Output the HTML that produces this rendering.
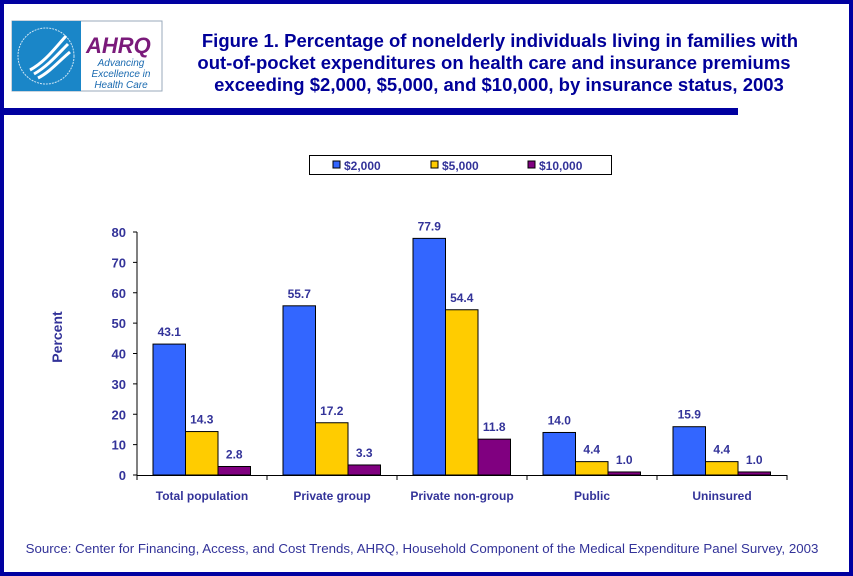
<!DOCTYPE html>
<html><head><meta charset="utf-8"><style>
body{margin:0;width:853px;height:576px;overflow:hidden;background:#fff;font-family:"Liberation Sans",Arial,sans-serif}
#frame{position:absolute;left:0;top:0;width:845px;height:568px;border:4px solid #0000a0;}
</style></head><body>
<div id="frame"></div>
<svg width="853" height="576" style="position:absolute;left:0;top:0">
<g>
<rect x="12" y="21" width="150" height="70" fill="#fff" stroke="#9ab" stroke-width="1"/>
<rect x="12" y="21" width="69" height="70" fill="#1a86c8"/>
<circle cx="46" cy="56" r="28" fill="none" stroke="#cfe6f5" stroke-width="1" stroke-dasharray="2 1"/>
<path d="M30 70 C45 62 55 48 66 36 M34 74 C48 66 58 54 68 44 M38 78 C50 72 60 60 70 52" stroke="#fff" stroke-width="3" fill="none"/>
<text x="86" y="53" font-size="22" font-weight="bold" font-style="italic" fill="#7a1a7a">AHRQ</text>
<text x="121" y="66" font-size="10" font-style="italic" fill="#1a6ab0" text-anchor="middle">Advancing</text>
<text x="121" y="77" font-size="10" font-style="italic" fill="#1a6ab0" text-anchor="middle">Excellence in</text>
<text x="121" y="88" font-size="10" font-style="italic" fill="#1a6ab0" text-anchor="middle">Health Care</text>
</g>
<g font-size="18.5" font-weight="bold" fill="#000099" text-anchor="middle">
<text x="500" y="47">Figure 1. Percentage of nonelderly individuals living in families with</text>
<text x="494" y="69">out-of-pocket expenditures on health care and insurance premiums</text>
<text x="499" y="91">exceeding $2,000, $5,000, and $10,000, by insurance status, 2003</text>
</g>
<rect x="0" y="108" width="738" height="7" fill="#0000a0"/>
<g>
<rect x="309.5" y="155.5" width="302" height="19" fill="#fff" stroke="#000"/>
<g id="leg"></g>
</g>
<text x="62" y="337" font-size="14" font-weight="bold" fill="#333399" text-anchor="middle" transform="rotate(-90 62 337)">Percent</text>
<g id="plot"></g>
<text x="422" y="553" font-size="13.3" fill="#333399" text-anchor="middle">Source: Center for Financing, Access, and Cost Trends, AHRQ, Household Component of the Medical Expenditure Panel Survey, 2003</text>
</svg>
<script>
const categories=["Total population","Private group","Private non-group","Public","Uninsured"];
const seriesNames=["$2,000","$5,000","$10,000"];
const s2000=[43.1,55.7,77.9,14.0,15.9];
const s5000=[14.3,17.2,54.4,4.4,4.4];
const s10000=[2.8,3.3,11.8,1.0,1.0];
const yTicks=[0,10,20,30,40,50,60,70,80];
const colors=["#3366ff","#ffcc00","#800080"];
const NS="http://www.w3.org/2000/svg";
const X0=137,GW=130,Y0=475,YT=232,YMAX=80,BW=32.5;
const y=v=>Y0-(v/YMAX)*(Y0-YT);
const plot=document.getElementById('plot');
function mk(t,a,p){const e=document.createElementNS(NS,t);for(const k in a)e.setAttribute(k,a[k]);(p||plot).appendChild(e);return e;}
const yAxis=mk('line',{x1:X0,y1:YT,x2:X0,y2:Y0,stroke:'#000'});


const xAxis=mk('line',{x1:X0,y1:Y0+0.5,x2:X0+GW*categories.length,y2:Y0+0.5,stroke:'#000'});


yTicks.forEach(t=>{
 mk('line',{x1:X0-4,y1:y(t),x2:X0,y2:y(t),stroke:'#000'});
 const tx=mk('text',{x:X0-11,y:y(t)+5,'font-size':13,'font-weight':'bold',fill:'#333399','text-anchor':'end'});
 tx.textContent=t;
 
 
});
for(let i=0;i<=categories.length;i++)mk('line',{x1:X0+GW*i,y1:Y0,x2:X0+GW*i,y2:Y0+5,stroke:'#000'});
const series=[s2000,s5000,s10000];
categories.forEach((c,i)=>{
 const gx=X0+GW*i+16;
 series.forEach((s,j)=>{
  const bx=gx+BW*j;
  const r=mk('rect',{x:bx,y:y(s[i]),width:BW,height:Y0-y(s[i]),fill:colors[j],stroke:'#000','stroke-width':1});
  
  
  const l=mk('text',{x:bx+BW/2,y:y(s[i])-8,'font-size':12,'font-weight':'bold',fill:'#333399','text-anchor':'middle'});
  l.textContent=s[i].toFixed(1);
  
  
 });
 const cl=mk('text',{x:X0+GW*i+GW/2,y:500,'font-size':12,'font-weight':'bold',fill:'#333399','text-anchor':'middle'});
 cl.textContent=c;
 
 
});
const leg=document.getElementById('leg');
const lx=[333,431,528];
seriesNames.forEach((n,j)=>{
 const r=mk('rect',{x:lx[j],y:161,width:7,height:7,fill:colors[j],stroke:'#000'},leg);
 
 
 const t=mk('text',{x:lx[j]+11,y:170,'font-size':12,'font-weight':'bold',fill:'#333399'},leg);
 t.textContent=n;
 
 
});
</script>
</body></html>
